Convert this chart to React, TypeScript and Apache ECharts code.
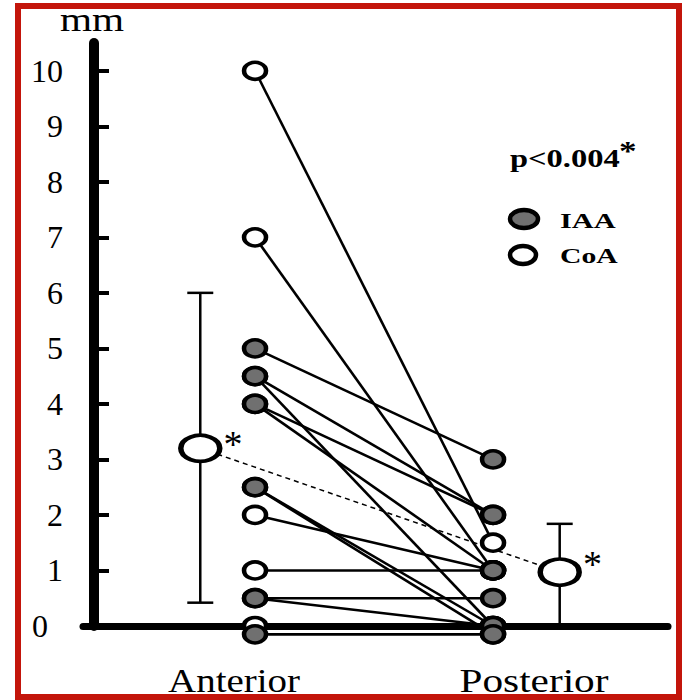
import React, { useEffect, useRef } from 'react';
import * as echarts from 'echarts';

// ---- data ----
const yTicks = [0, 1, 2, 3, 4, 5, 6, 7, 8, 9, 10];
const positionLabels = ['Anterior', 'Posterior'];
const positionX = [1, 2];
// one entry per subject: anterior value -> posterior value (mm)
const anteriorValues = [10, 7, 5, 4.5, 4.5, 4, 4, 2.5, 2.5, 2, 1, 0.5, 0.5, 0, -0.15];
const posteriorValues = [1.5, 1, 3, 2, 0, 2, 1, 0, -0.15, 1, 1, 0.5, 0, 0, -0.15];
const subjectGroups = ['CoA', 'CoA', 'IAA', 'IAA', 'IAA', 'IAA', 'IAA', 'IAA', 'IAA', 'CoA', 'CoA', 'IAA', 'IAA', 'CoA', 'IAA'];
// mean +/- SD markers
const meanX = [0.77, 2.28];
const meanValues = [3.2, 0.97];
const sdLow = [0.42, 0];
const sdHigh = [6.0, 1.84];
const pValueText = 'p<0.004';
const unitText = 'mm';

const FONT = '"Liberation Serif", "Times New Roman", serif';

export default function App() {
  const ref = useRef<HTMLDivElement>(null);

  useEffect(() => {
    document.body.style.margin = '0';
    if (!ref.current) return;
    const chart = echarts.init(ref.current, undefined, { renderer: 'svg' });

    const pairSeries = anteriorValues.map((a, i) => ({
      type: 'line',
      data: [
        [positionX[0], a],
        [positionX[1], posteriorValues[i]],
      ],
      symbol: 'none',
      silent: true,
      clip: false,
      z: 2,
      lineStyle: { color: '#000', width: 2.6 },
    }));

    const groupData = (g: string) => {
      const out: number[][] = [];
      subjectGroups.forEach((s, i) => {
        if (s === g) {
          out.push([positionX[0], anteriorValues[i]]);
          out.push([positionX[1], posteriorValues[i]]);
        }
      });
      return out;
    };

    const option: any = {
      animation: false,
      backgroundColor: '#fff',
      grid: { left: 83, right: 16, top: 43, bottom: 74 },
      xAxis: {
        type: 'value',
        min: 0.2773,
        max: 2.735,
        axisLine: { show: true, onZero: false, lineStyle: { color: '#000', width: 7 } },
        axisTick: { show: false },
        axisLabel: { show: false },
        splitLine: { show: false },
      },
      yAxis: {
        type: 'value',
        min: 0,
        max: 10.5,
        interval: 1,
        offset: -11,
        axisLine: { show: true, lineStyle: { color: '#000', width: 10 } },
        axisTick: {
          show: true,
          inside: true,
          length: 15,
          customValues: yTicks,
          lineStyle: { color: '#000', width: 4 },
        },
        axisLabel: {
          customValues: yTicks,
          margin: 31,
          fontSize: 32,
          fontFamily: FONT,
          color: '#000',
          formatter: (v: number) => (v === 0 ? '{z|0}' : String(v)),
          rich: { z: { padding: [0, 15, 0, 0], fontSize: 32, fontFamily: FONT, color: '#000' } },
        },
        splitLine: { show: false },
      },
      series: [
        ...pairSeries,
        {
          name: 'CoA',
          type: 'scatter',
          data: groupData('CoA'),
          symbol: 'circle',
          symbolSize: [22, 17],
          clip: false,
          z: 3,
          itemStyle: { color: '#fff', borderColor: '#000', borderWidth: 4, opacity: 1 },
        },
        {
          name: 'IAA',
          type: 'scatter',
          data: groupData('IAA'),
          symbol: 'circle',
          symbolSize: [22, 17],
          clip: false,
          z: 4,
          itemStyle: { color: '#707070', borderColor: '#000', borderWidth: 4, opacity: 1 },
        },
        {
          type: 'line',
          data: meanX.map((x, i) => [x, meanValues[i]]),
          symbol: 'none',
          silent: true,
          clip: false,
          z: 2,
          lineStyle: { color: '#000', width: 1.5, type: [5, 4] },
        },
        {
          type: 'custom',
          data: meanX.map((x, i) => [x, sdLow[i], sdHigh[i]]),
          encode: { x: 0, y: [1, 2] },
          clip: false,
          silent: true,
          z: 2,
          renderItem: (_p: any, api: any) => {
            const x = api.value(0);
            const top = api.coord([x, api.value(2)]);
            const bot = api.coord([x, api.value(1)]);
            const hw = 13;
            const st = { stroke: '#000', lineWidth: 2.5 };
            return {
              type: 'group',
              children: [
                { type: 'line', shape: { x1: top[0], y1: top[1], x2: bot[0], y2: bot[1] }, style: st },
                { type: 'line', shape: { x1: top[0] - hw, y1: top[1], x2: top[0] + hw, y2: top[1] }, style: st },
                { type: 'line', shape: { x1: bot[0] - hw, y1: bot[1], x2: bot[0] + hw, y2: bot[1] }, style: st },
              ],
            };
          },
        },
        {
          type: 'scatter',
          data: meanX.map((x, i) => ({
            value: [x, meanValues[i]],
            label: { offset: [0, i === 0 ? -4 : -8] },
          })),
          symbol: 'circle',
          symbolSize: [39, 26],
          clip: false,
          z: 5,
          itemStyle: { color: '#fff', borderColor: '#000', borderWidth: 4.5, opacity: 1 },
          label: {
            show: true,
            formatter: '*',
            position: 'right',
            distance: 1,
            fontSize: 38,
            fontFamily: FONT,
            color: '#000',
          },
        },
      ],
      graphic: [
        {
          type: 'rect',
          shape: { x: 18, y: 6, width: 661, height: 691 },
          style: { fill: 'none', stroke: '#c3150b', lineWidth: 6 },
          z: 100,
          silent: true,
        },
        {
          type: 'text',
          x: 92,
          y: 20,
          scaleX: 1.25,
          style: { text: unitText, fontSize: 33, fontFamily: FONT, fill: '#000', align: 'center', verticalAlign: 'middle' },
        },
        {
          type: 'text',
          x: 234,
          y: 681,
          scaleX: 1.18,
          style: { text: positionLabels[0], fontSize: 33, fontFamily: FONT, fill: '#000', align: 'center', verticalAlign: 'middle' },
        },
        {
          type: 'text',
          x: 534,
          y: 681,
          scaleX: 1.25,
          style: { text: positionLabels[1], fontSize: 33, fontFamily: FONT, fill: '#000', align: 'center', verticalAlign: 'middle' },
        },
        {
          type: 'text',
          x: 510,
          y: 158,
          scaleX: 1.3,
          style: { text: pValueText, fontSize: 25, fontWeight: 'bold', fontFamily: FONT, fill: '#000', align: 'left', verticalAlign: 'middle' },
        },
        {
          type: 'text',
          x: 619,
          y: 151,
          scaleX: 1.3,
          style: { text: '*', fontSize: 27, fontWeight: 'bold', fontFamily: FONT, fill: '#000', align: 'left', verticalAlign: 'middle' },
        },
        {
          type: 'ellipse',
          shape: { cx: 524, cy: 219, rx: 14, ry: 9 },
          style: { fill: '#707070', stroke: '#000', lineWidth: 4.5 },
        },
        {
          type: 'ellipse',
          shape: { cx: 523, cy: 255, rx: 13, ry: 9 },
          style: { fill: '#fff', stroke: '#000', lineWidth: 4.5 },
        },
        {
          type: 'text',
          x: 560,
          y: 221,
          scaleX: 1.38,
          style: { text: 'IAA', fontSize: 22, fontWeight: 'bold', fontFamily: FONT, fill: '#000', align: 'left', verticalAlign: 'middle' },
        },
        {
          type: 'text',
          x: 560,
          y: 256,
          scaleX: 1.35,
          style: { text: 'CoA', fontSize: 22, fontWeight: 'bold', fontFamily: FONT, fill: '#000', align: 'left', verticalAlign: 'middle' },
        },
      ],
    };

    chart.setOption(option);
    return () => chart.dispose();
  }, []);

  return <div ref={ref} style={{ width: 684, height: 700 }} />;
}
